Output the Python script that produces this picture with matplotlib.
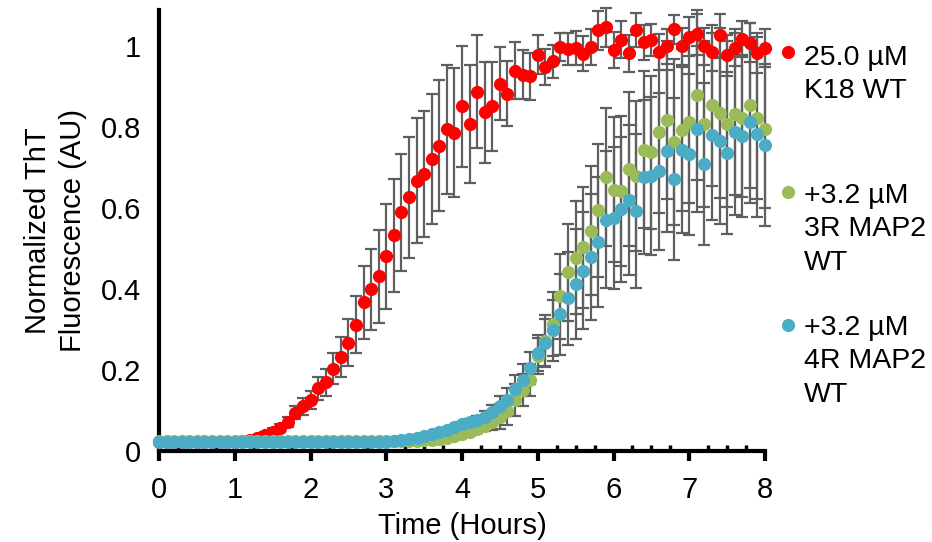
import numpy as np
import matplotlib
matplotlib.use("Agg")
import matplotlib.pyplot as plt
from matplotlib.ticker import MultipleLocator

plt.rcParams["font.family"] = ["Liberation Sans", "DejaVu Sans"]

# ----------------------------------------------------
# 1. DATA (read every 0.1 h from 0 to 8 h)
# ----------------------------------------------------
time_h = np.round(np.arange(81) * 0.1, 1)

k18_wt = [
    0.022, 0.022, 0.022, 0.022, 0.022, 0.022, 0.022, 0.022, 0.022, 0.022,
    0.022, 0.024, 0.027, 0.032, 0.040, 0.048, 0.057, 0.072, 0.094, 0.110,
    0.126, 0.155, 0.170, 0.203, 0.232, 0.268, 0.312, 0.368, 0.400, 0.432,
    0.481, 0.533, 0.590, 0.627, 0.668, 0.685, 0.722, 0.755, 0.795, 0.787,
    0.852, 0.808, 0.888, 0.837, 0.852, 0.908, 0.883, 0.940, 0.930, 0.926,
    0.979, 0.949, 0.963, 0.999, 0.993, 0.996, 0.982, 0.999, 1.040, 1.047,
    0.991, 1.017, 0.983, 1.040, 1.010, 1.016, 0.986, 1.000, 1.042, 1.000,
    1.024, 1.030, 1.000, 0.987, 1.027, 0.978, 0.997, 1.019, 1.009, 0.984,
    0.997,
]
k18_wt_err = [
    0.000, 0.000, 0.000, 0.000, 0.000, 0.000, 0.000, 0.000, 0.000, 0.000,
    0.000, 0.002, 0.003, 0.004, 0.006, 0.008, 0.010, 0.013, 0.016, 0.020,
    0.023, 0.028, 0.033, 0.038, 0.050, 0.058, 0.070, 0.090, 0.100, 0.115,
    0.130, 0.140, 0.145, 0.150, 0.155, 0.155, 0.160, 0.162, 0.160, 0.160,
    0.150, 0.145, 0.140, 0.125, 0.110, 0.090, 0.080, 0.070, 0.060, 0.058,
    0.048, 0.045, 0.040, 0.035, 0.040, 0.041, 0.043, 0.045, 0.048, 0.049,
    0.045, 0.046, 0.046, 0.042, 0.044, 0.040, 0.045, 0.043, 0.035, 0.046,
    0.048, 0.050, 0.045, 0.047, 0.054, 0.050, 0.046, 0.044, 0.048, 0.050,
    0.047,
]

map2_3r = [
    0.024, 0.024, 0.024, 0.024, 0.024, 0.024, 0.024, 0.024, 0.024, 0.024,
    0.024, 0.024, 0.024, 0.024, 0.024, 0.024, 0.024, 0.024, 0.024, 0.024,
    0.024, 0.024, 0.024, 0.024, 0.024, 0.024, 0.024, 0.024, 0.024, 0.024,
    0.024, 0.024, 0.024, 0.024, 0.025, 0.026, 0.027, 0.030, 0.033, 0.038,
    0.043, 0.048, 0.055, 0.062, 0.072, 0.085, 0.100, 0.126, 0.150, 0.176,
    0.235, 0.273, 0.314, 0.382, 0.442, 0.478, 0.503, 0.545, 0.595, 0.677,
    0.646, 0.642, 0.697, 0.680, 0.745, 0.738, 0.788, 0.818, 0.763, 0.793,
    0.813, 0.881, 0.809, 0.854, 0.836, 0.809, 0.832, 0.824, 0.854, 0.824,
    0.795,
]
map2_3r_err = [
    0.000, 0.000, 0.000, 0.000, 0.000, 0.000, 0.000, 0.000, 0.000, 0.000,
    0.000, 0.000, 0.000, 0.000, 0.000, 0.000, 0.000, 0.000, 0.000, 0.000,
    0.000, 0.000, 0.000, 0.000, 0.000, 0.000, 0.000, 0.000, 0.000, 0.000,
    0.000, 0.000, 0.000, 0.000, 0.000, 0.000, 0.000, 0.000, 0.000, 0.000,
    0.005, 0.008, 0.010, 0.013, 0.020, 0.030, 0.035, 0.040, 0.040, 0.040,
    0.045, 0.062, 0.080, 0.105, 0.120, 0.140, 0.150, 0.160, 0.165, 0.170,
    0.180, 0.185, 0.190, 0.185, 0.195, 0.190, 0.200, 0.195, 0.205, 0.200,
    0.200, 0.210, 0.205, 0.200, 0.210, 0.205, 0.200, 0.195, 0.205, 0.200,
    0.195,
]

map2_4r = [
    0.023, 0.023, 0.023, 0.023, 0.023, 0.023, 0.023, 0.023, 0.023, 0.023,
    0.023, 0.023, 0.023, 0.023, 0.023, 0.023, 0.023, 0.023, 0.023, 0.023,
    0.023, 0.023, 0.023, 0.023, 0.023, 0.023, 0.023, 0.023, 0.023, 0.023,
    0.023, 0.025, 0.027, 0.030, 0.033, 0.037, 0.041, 0.046, 0.052, 0.060,
    0.067, 0.072, 0.077, 0.085, 0.096, 0.110, 0.126, 0.153, 0.176, 0.205,
    0.242, 0.267, 0.298, 0.338, 0.378, 0.413, 0.446, 0.479, 0.517, 0.572,
    0.576, 0.597, 0.621, 0.594, 0.677, 0.679, 0.691, 0.741, 0.673, 0.743,
    0.733, 0.796, 0.710, 0.782, 0.767, 0.737, 0.788, 0.778, 0.814, 0.784,
    0.757,
]
map2_4r_err = [
    0.000, 0.000, 0.000, 0.000, 0.000, 0.000, 0.000, 0.000, 0.000, 0.000,
    0.000, 0.000, 0.000, 0.000, 0.000, 0.000, 0.000, 0.000, 0.000, 0.000,
    0.000, 0.000, 0.000, 0.000, 0.000, 0.000, 0.000, 0.000, 0.000, 0.000,
    0.000, 0.000, 0.000, 0.000, 0.000, 0.000, 0.000, 0.000, 0.000, 0.000,
    0.005, 0.008, 0.010, 0.013, 0.018, 0.025, 0.030, 0.035, 0.038, 0.040,
    0.045, 0.060, 0.075, 0.100, 0.115, 0.135, 0.145, 0.155, 0.160, 0.170,
    0.175, 0.180, 0.185, 0.190, 0.190, 0.195, 0.195, 0.200, 0.200, 0.205,
    0.200, 0.205, 0.200, 0.210, 0.205, 0.200, 0.205, 0.200, 0.200, 0.205,
    0.200,
]

labels = ["25.0 µM\nK18 WT", "+3.2 µM\n3R MAP2\nWT", "+3.2 µM\n4R MAP2\nWT"]
colors = ["#ff0000", "#9bbb59", "#4bacc6"]

# ----------------------------------------------------
# 2. PLOT
# ----------------------------------------------------
fig = plt.figure(figsize=(9.32, 5.42), dpi=100)
ax = fig.add_axes([159 / 932, 91 / 542, 606 / 932, 441 / 542])

series = [(k18_wt, k18_wt_err), (map2_3r, map2_3r_err), (map2_4r, map2_4r_err)]

# error bars first so all markers sit on top
for vals, errs in series:
    ax.errorbar(time_h, vals, yerr=errs, fmt="none", ecolor="#5f5f5f",
                elinewidth=1.6, capsize=4, capthick=1.6, zorder=2, clip_on=False)

for (vals, errs), col in zip(series, colors):
    ax.plot(time_h, vals, "o", color=col, ms=9.5, mec="none", zorder=3, clip_on=False)

ax.set_xlim(0, 8)
ax.set_ylim(0, 1.09)
ax.set_xticks(range(9))
ax.xaxis.set_minor_locator(MultipleLocator(0.25))
ax.set_yticks([0, 0.2, 0.4, 0.6, 0.8, 1.0])
ax.set_yticklabels(["0", "0.2", "0.4", "0.6", "0.8", "1"])

for side in ["top", "right"]:
    ax.spines[side].set_visible(False)
for side in ["left", "bottom"]:
    ax.spines[side].set_linewidth(3)
    ax.spines[side].set_color("black")

ax.tick_params(axis="x", which="major", direction="out", length=7, width=3, pad=11, labelsize=21)
ax.tick_params(axis="x", which="minor", direction="in", length=4.5, width=2.5)
ax.tick_params(axis="y", length=0, pad=13, labelsize=21)

ax.set_xlabel("Time (Hours)", fontsize=21, labelpad=6)
ax.set_ylabel("Normalized ThT\nFluorescence (AU)", fontsize=21, labelpad=10, linespacing=1.3)

# legend to the right, marker next to the first line of each label
legend_dot_y = [52, 192, 325]
legend_top_y = [45, 183, 315]
for lab, col, dy, ty in zip(labels, colors, legend_dot_y, legend_top_y):
    fig.lines.append(plt.Line2D([788 / 932], [1 - dy / 542], marker="o", color=col,
                                ms=9.5, mec="none", transform=fig.transFigure))
    fig.text(804 / 932, 1 - ty / 542, lab, fontsize=20.5, va="top",
             ha="left", linespacing=1.37)

fig.savefig("out.png", dpi=100)
